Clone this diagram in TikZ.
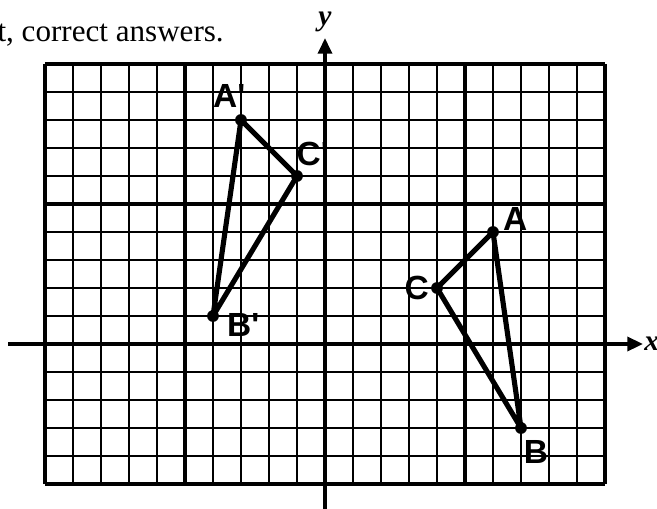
\documentclass[tikz,border=0pt]{standalone}
\usepackage{fontspec}
\setmainfont{Liberation Serif}
\newfontfamily\lblfont{Liberation Sans}
\usetikzlibrary{arrows.meta,positioning}

\begin{document}
\begin{tikzpicture}[x=5mm, y=5mm,
  thin/.style={line width=1pt},
  major/.style={line width=1.9pt},
  axis/.style={line width=2.4pt, -{Triangle[length=8pt,width=7pt]}},
  tri/.style={line width=2.6pt, line join=round},
  lbl/.style={font=\lblfont\bfseries\fontsize{17}{17}\selectfont, inner sep=1pt},
  axlbl/.style={font=\bfseries\itshape\fontsize{15}{15}\selectfont, inner sep=0pt}]
  \useasboundingbox (-11.607,-5.857) rectangle (11.857,12.286);
  \node[anchor=base west, inner sep=0pt, font=\fontsize{15.8}{15.8}\selectfont] (note) at (-11.71,10.80) {t, correct answers.};
  % grid
  \foreach \x in {-10,...,10} \draw[thin] (\x,-5) -- (\x,10);
  \foreach \y in {-5,...,10} \draw[thin] (-10,\y) -- (10,\y);
  \foreach \x in {-10,-5,5,10} \draw[major] (\x,-5) -- (\x,10);
  \foreach \y in {-5,5,10} \draw[major] (-10,\y) -- (10,\y);
  % axes
  \coordinate (xl) at (-11.31,0);
  \coordinate (xr) at (11.36,0);
  \coordinate (yb) at (0,-5.9);
  \coordinate (yt) at (0,10.93);
  \draw[axis] (xl) -- (xr);
  \draw[axis] (yb) -- (yt);
  \node[axlbl, right=0.5pt of xr] (xlab) {x};
  \node[axlbl, above=3pt of yt] (ylab) {y};
  % triangles
  \coordinate (Ap) at (-3,8);
  \coordinate (Bp) at (-4,1);
  \coordinate (Cp) at (-1,6);
  \coordinate (A) at (6,4);
  \coordinate (B) at (7,-3);
  \coordinate (C) at (4,2);
  \draw[tri] (Ap) -- (Cp) -- (Bp) -- cycle;
  \draw[tri] (A) -- (C) -- (B) -- cycle;
  \foreach \p in {Ap,Bp,Cp,A,B,C} \fill (\p) circle (3pt);
  \node[lbl, above=5pt of Ap, xshift=-6pt] (lAp) {A'};
  \node[lbl, above=4pt of Cp, xshift=8pt] (lCp) {C'};
  \node[lbl, right=6pt of Bp, yshift=-4.6pt] (lBp) {B'};
  \node[lbl, right=4pt of A, yshift=6.6pt] (lA) {A};
  \node[lbl, left=3pt of C] (lC) {C};
  \node[lbl, below=5pt of B, xshift=7.6pt] (lB) {B};
\end{tikzpicture}
\end{document}
